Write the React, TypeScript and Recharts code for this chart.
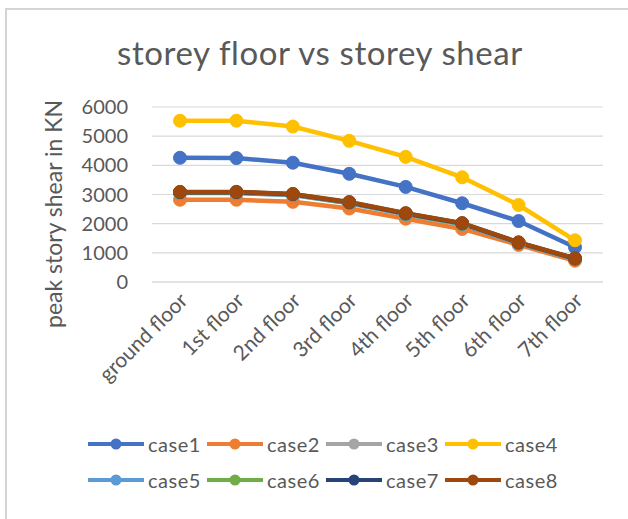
import React from 'react';
import { LineChart, Line, XAxis, YAxis, CartesianGrid, Legend } from 'recharts';

const floors = ['ground floor', '1st floor', '2nd floor', '3rd floor', '4th floor', '5th floor', '6th floor', '7th floor'];
const case1 = [4260, 4250, 4090, 3710, 3260, 2700, 2090, 1190];
const case2 = [2820, 2820, 2750, 2520, 2170, 1820, 1270, 730];
const case3 = [3060, 3060, 2990, 2710, 2330, 1990, 1340, 790];
const case4 = [5530, 5530, 5330, 4840, 4290, 3590, 2640, 1430];
const case5 = [3050, 3050, 2980, 2700, 2320, 1980, 1330, 790];
const case6 = [3070, 3070, 3000, 2720, 2340, 2000, 1350, 800];
const case7 = [3080, 3080, 3010, 2730, 2350, 2010, 1350, 805];
const case8 = [3090, 3090, 3020, 2740, 2360, 2020, 1360, 810];
const yTicks = [0, 1000, 2000, 3000, 4000, 5000, 6000];

const seriesNames = ['case1', 'case2', 'case3', 'case4', 'case5', 'case6', 'case7', 'case8'];
const seriesValues = [case1, case2, case3, case4, case5, case6, case7, case8];
const seriesColors = ['#4472C4', '#ED7D31', '#A5A5A5', '#FFC000', '#5B9BD5', '#70AD47', '#264478', '#9E480E'];

const data = floors.map((f, i) => {
  const row: any = { floor: f };
  seriesNames.forEach((n, k) => { row[n] = seriesValues[k][i]; });
  return row;
});

const FONT = 'Lato, "Open Sans", sans-serif';
const GRAY = '#595959';

const XTick = (props: any) => {
  const { x, y, payload } = props;
  return (
    <g transform={`translate(${x + 4},${y + 7})`}>
      <text x={0} y={0} textAnchor="end" transform="rotate(-45)" fill={GRAY} fontSize={21} fontFamily={FONT} dy={7}>
        {payload.value}
      </text>
    </g>
  );
};

const LegendContent = () => {
  const rows = [seriesNames.slice(0, 4), seriesNames.slice(4, 8)];
  return (
    <div style={{ fontFamily: FONT }}>
      {rows.map((row, r) => (
        <div key={r} style={{ display: 'flex', height: 36, alignItems: 'center' }}>
          {row.map((name) => {
            const idx = seriesNames.indexOf(name);
            const c = seriesColors[idx];
            return (
              <div key={name} style={{ width: 119, display: 'flex', alignItems: 'center' }}>
                <svg width={56} height={14} style={{ display: 'block' }}>
                  <line x1={0} y1={7} x2={56} y2={7} stroke={c} strokeWidth={4} />
                  <circle cx={28} cy={7} r={5.5} fill={c} />
                </svg>
                <span style={{ marginLeft: 4, fontSize: 20, color: GRAY, letterSpacing: 0.5 }}>{name}</span>
              </div>
            );
          })}
        </div>
      ))}
    </div>
  );
};

const YLabel = () => {
  return (
    <text x={53} y={214} transform="rotate(-90, 53, 214)" textAnchor="middle" dominantBaseline="central" fill={GRAY} fontSize={23} fontFamily={FONT}>
      peak story shear in KN
    </text>
  );
};

export default function App() {
  return (
    <div style={{ position: 'absolute', left: 0, top: 0, width: 628, height: 519, background: '#fff' }}>
      <div style={{ position: 'absolute', left: 5, top: 8, width: 623, height: 511, borderTop: '2px solid #d4d4d4', borderLeft: '2px solid #d4d4d4', boxSizing: 'border-box' }} />
      <div style={{ position: 'absolute', left: 0, width: 640, top: 32, textAlign: 'center', fontFamily: FONT, fontSize: 33, color: GRAY, lineHeight: '40px', letterSpacing: 0.6 }}>
        storey floor vs storey shear
      </div>
      <div style={{ position: 'absolute', left: 0, top: 0 }}>
        <LineChart width={628} height={519} data={data} margin={{ top: 107, right: 25, left: 0, bottom: 137 }}>
          <CartesianGrid vertical={false} stroke="#d9d9d9" strokeWidth={1.2} />
          <XAxis dataKey="floor" height={100} axisLine={{ stroke: '#d9d9d9' }} tickLine={false} tick={<XTick />} interval={0} padding={{ left: 28, right: 28 }} />
          <YAxis width={152} domain={[0, 6000]} ticks={yTicks} axisLine={false} tickLine={false} tickSize={0} tickMargin={24}
            tick={{ fill: GRAY, fontSize: 20, fontFamily: FONT }} label={<YLabel />} />
          <Legend layout="horizontal" verticalAlign="middle" align="center" wrapperStyle={{ top: 426, left: 88, width: 500 }} content={<LegendContent />} />
          {seriesNames.map((n, k) => (
            <Line key={n} dataKey={n} stroke={seriesColors[k]} strokeWidth={4.5} isAnimationActive={false}
              dot={{ r: 6.5, fill: seriesColors[k], stroke: seriesColors[k], strokeWidth: 1 }} activeDot={false} />
          ))}
        </LineChart>
      </div>
    </div>
  );
}
